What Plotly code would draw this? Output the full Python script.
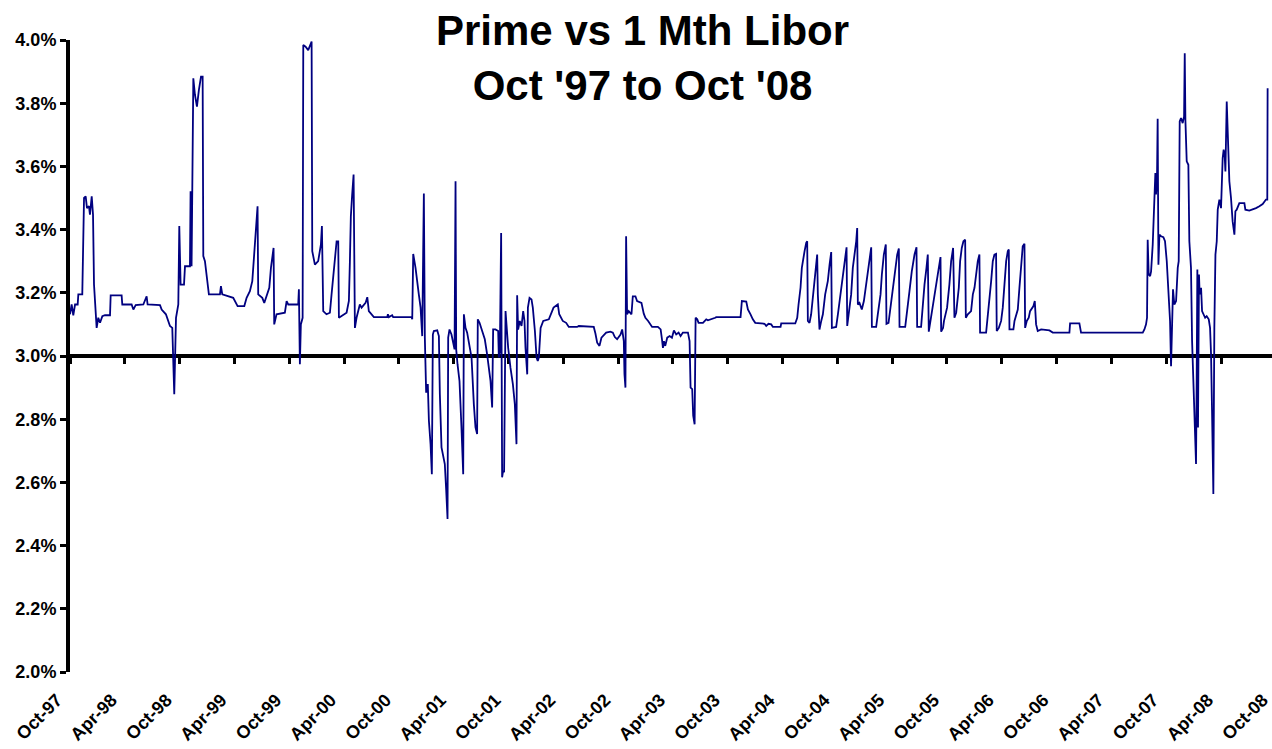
import plotly.graph_objects as go

# Time expressed as decimal years, spread (Prime minus 1M Libor) in percent
t_97_00 = [1997.750, 1997.765, 1997.780, 1997.796, 1997.820, 1997.826, 1997.862, 1997.878, 1997.893, 1997.905,
           1997.923, 1997.932, 1997.948, 1997.960, 1997.969, 1997.981, 1997.993, 1998.008, 1998.024, 1998.045,
           1998.069, 1998.115, 1998.121, 1998.221, 1998.227, 1998.312, 1998.328, 1998.349, 1998.419, 1998.449,
           1998.458, 1998.571, 1998.586, 1998.625, 1998.662, 1998.683, 1998.701, 1998.717, 1998.738, 1998.747,
           1998.759, 1998.790, 1998.799, 1998.844, 1998.850, 1998.859, 1998.875, 1998.890, 1998.908, 1998.926,
           1998.945, 1998.960, 1998.966, 1998.981, 1998.996, 1999.017, 1999.118, 1999.127, 1999.139, 1999.239,
           1999.279, 1999.340, 1999.361, 1999.391, 1999.413, 1999.437, 1999.461, 1999.467, 1999.504, 1999.522,
           1999.543, 1999.568, 1999.583, 1999.607, 1999.613, 1999.634, 1999.710, 1999.726, 1999.741, 1999.832,
           1999.838, 1999.847, 1999.856, 1999.872, 1999.878, 1999.899, 1999.923, 1999.954, 1999.960, 1999.984,
           2000.014, 2000.039, 2000.048, 2000.060, 2000.090, 2000.121, 2000.136, 2000.160, 2000.182, 2000.197,
           2000.203, 2000.273, 2000.294, 2000.303, 2000.312, 2000.324, 2000.337, 2000.349, 2000.364, 2000.394,
           2000.410]
v_97_00 = [3.132, 3.163, 3.129, 3.163, 3.163, 3.195, 3.195, 3.500, 3.505, 3.468,
           3.474, 3.447, 3.505, 3.447, 3.226, 3.132, 3.089, 3.121, 3.105, 3.126,
           3.129, 3.129, 3.192, 3.192, 3.163, 3.163, 3.147, 3.161, 3.163, 3.189,
           3.163, 3.161, 3.147, 3.132, 3.095, 3.089, 2.879, 3.121, 3.163, 3.411,
           3.226, 3.226, 3.284, 3.284, 3.521, 3.284, 3.879, 3.826, 3.789, 3.842,
           3.884, 3.884, 3.316, 3.300, 3.247, 3.195, 3.195, 3.221, 3.195, 3.184,
           3.158, 3.158, 3.184, 3.205, 3.237, 3.342, 3.474, 3.195, 3.184, 3.168,
           3.189, 3.216, 3.279, 3.342, 3.100, 3.132, 3.137, 3.174, 3.163, 3.163,
           3.211, 2.974, 3.100, 3.121, 3.984, 3.979, 3.968, 3.995, 3.332, 3.289,
           3.300, 3.353, 3.411, 3.142, 3.132, 3.137, 3.195, 3.289, 3.363, 3.363,
           3.121, 3.137, 3.174, 3.295, 3.442, 3.511, 3.574, 3.089, 3.121, 3.163,
           3.153]

t_00_03 = [2000.446, 2000.462, 2000.476, 2000.522, 2000.644, 2000.650, 2000.659, 2000.689, 2000.698, 2000.866,
           2000.872, 2000.881, 2000.902, 2000.917, 2000.932, 2000.948, 2000.963, 2000.978, 2000.987, 2000.999,
           2001.014, 2001.024, 2001.039, 2001.051, 2001.060, 2001.069, 2001.100, 2001.115, 2001.124, 2001.139,
           2001.154, 2001.169, 2001.182, 2001.194, 2001.200, 2001.212, 2001.230, 2001.245, 2001.258, 2001.267,
           2001.273, 2001.285, 2001.303, 2001.321, 2001.337, 2001.343, 2001.358, 2001.373, 2001.394, 2001.413,
           2001.434, 2001.449, 2001.464, 2001.470, 2001.486, 2001.510, 2001.534, 2001.555, 2001.586, 2001.601,
           2001.610, 2001.631, 2001.656, 2001.662, 2001.671, 2001.683, 2001.692, 2001.701, 2001.710, 2001.723,
           2001.732, 2001.747, 2001.768, 2001.790, 2001.808, 2001.823, 2001.829, 2001.838, 2001.853, 2001.869,
           2001.884, 2001.896, 2001.905, 2001.921, 2001.927, 2001.942, 2001.960, 2001.972, 2001.991, 2002.006,
           2002.017, 2002.027, 2002.043, 2002.067, 2002.118, 2002.143, 2002.161, 2002.200, 2002.213, 2002.245,
           2002.276, 2002.300, 2002.376, 2002.391, 2002.528, 2002.543, 2002.559, 2002.580, 2002.598, 2002.641,
           2002.680, 2002.702, 2002.720, 2002.741, 2002.772, 2002.787, 2002.802, 2002.808, 2002.817, 2002.823,
           2002.832, 2002.847, 2002.872, 2002.884, 2002.908, 2002.923, 2002.963, 2002.984, 2002.999, 2003.024,
           2003.045, 2003.060]
v_00_03 = [3.168, 3.186, 3.142, 3.123, 3.123, 3.132, 3.123, 3.129, 3.123, 3.123,
           3.116, 3.323, 3.279, 3.226, 3.195, 3.153, 3.063, 3.514, 3.058, 2.884,
           2.911, 2.795, 2.721, 2.626, 3.068, 3.079, 3.081, 3.063, 2.879, 2.711,
           2.689, 2.658, 2.574, 2.484, 3.058, 3.084, 3.068, 3.037, 3.021, 3.553,
           3.021, 2.974, 2.921, 2.774, 2.626, 3.132, 3.089, 3.074, 3.037, 2.995,
           2.847, 2.774, 2.753, 3.116, 3.105, 3.079, 3.053, 3.005, 2.921, 2.837,
           3.084, 3.084, 3.079, 2.995, 3.011, 3.389, 2.616, 2.637, 2.632, 3.142,
           3.089, 3.026, 2.963, 2.911, 2.847, 2.721, 3.192, 3.084, 3.111, 3.095,
           3.142, 3.111, 3.026, 2.942, 3.153, 3.184, 3.179, 3.153, 3.079, 2.995,
           2.984, 2.995, 3.089, 3.111, 3.116, 3.137, 3.153, 3.163, 3.132, 3.111,
           3.105, 3.092, 3.092, 3.095, 3.092, 3.071, 3.042, 3.032, 3.058, 3.074,
           3.077, 3.074, 3.060, 3.053, 3.068, 3.084, 3.047, 2.942, 2.900, 3.379,
           3.132, 3.142, 3.132, 3.189, 3.189, 3.174, 3.168, 3.134, 3.121, 3.111,
           3.097, 3.092]

t_03_05 = [2003.113, 2003.138, 2003.150, 2003.159, 2003.168, 2003.180, 2003.198, 2003.220, 2003.241, 2003.259,
           2003.280, 2003.302, 2003.320, 2003.341, 2003.387, 2003.402, 2003.411, 2003.426, 2003.435, 2003.448,
           2003.457, 2003.472, 2003.484, 2003.524, 2003.554, 2003.569, 2003.636, 2003.645, 2003.867, 2003.879,
           2003.919, 2003.934, 2003.958, 2003.979, 2004.001, 2004.086, 2004.101, 2004.122, 2004.147, 2004.162,
           2004.232, 2004.238, 2004.366, 2004.384, 2004.396, 2004.414, 2004.426, 2004.438, 2004.451, 2004.466,
           2004.475, 2004.481, 2004.496, 2004.511, 2004.530, 2004.548, 2004.566, 2004.572, 2004.587, 2004.603,
           2004.618, 2004.639, 2004.663, 2004.679, 2004.694, 2004.700, 2004.739, 2004.755, 2004.779, 2004.800,
           2004.821, 2004.834, 2004.840, 2004.861, 2004.876, 2004.891, 2004.907, 2004.922, 2004.931, 2004.937,
           2004.952, 2004.973, 2004.992, 2005.004, 2005.022, 2005.043, 2005.059, 2005.065, 2005.104, 2005.119,
           2005.144, 2005.156, 2005.174, 2005.192, 2005.198, 2005.217, 2005.235, 2005.256, 2005.277, 2005.296,
           2005.311, 2005.317, 2005.369, 2005.387, 2005.408, 2005.429, 2005.454, 2005.472, 2005.478, 2005.514,
           2005.530, 2005.545, 2005.563, 2005.575, 2005.584, 2005.600, 2005.621, 2005.642, 2005.660, 2005.679,
           2005.691, 2005.697, 2005.714, 2005.723, 2005.751, 2005.772, 2005.788, 2005.806, 2005.818, 2005.834]
v_03_05 = [3.092, 3.084, 3.053, 3.026, 3.047, 3.032, 3.058, 3.063, 3.058, 3.081,
           3.068, 3.074, 3.063, 3.074, 3.074, 3.047, 2.900, 2.895, 2.811, 2.784,
           3.121, 3.116, 3.105, 3.105, 3.116, 3.113, 3.121, 3.123, 3.123, 3.174,
           3.172, 3.147, 3.132, 3.116, 3.105, 3.102, 3.095, 3.102, 3.100, 3.092,
           3.092, 3.103, 3.103, 3.121, 3.163, 3.216, 3.279, 3.311, 3.332, 3.358,
           3.363, 3.111, 3.105, 3.132, 3.205, 3.268, 3.321, 3.195, 3.084, 3.111,
           3.132, 3.195, 3.237, 3.289, 3.329, 3.089, 3.092, 3.132, 3.195, 3.237,
           3.300, 3.344, 3.095, 3.153, 3.195, 3.279, 3.321, 3.363, 3.405, 3.163,
           3.168, 3.147, 3.174, 3.205, 3.258, 3.300, 3.344, 3.092, 3.092, 3.132,
           3.195, 3.258, 3.321, 3.353, 3.102, 3.105, 3.153, 3.205, 3.268, 3.321,
           3.340, 3.092, 3.092, 3.153, 3.205, 3.268, 3.321, 3.344, 3.092, 3.092,
           3.174, 3.226, 3.279, 3.321, 3.077, 3.111, 3.163, 3.195, 3.237, 3.279,
           3.313, 3.077, 3.089, 3.111, 3.153, 3.226, 3.300, 3.342, 3.121, 3.137]

t_05_08 = [2005.843, 2005.858, 2005.870, 2005.885, 2005.900, 2005.916, 2005.922, 2005.940, 2005.970, 2005.986,
           2006.001, 2006.016, 2006.031, 2006.046, 2006.052, 2006.107, 2006.122, 2006.138, 2006.153, 2006.168,
           2006.183, 2006.198, 2006.204, 2006.223, 2006.244, 2006.259, 2006.274, 2006.290, 2006.305, 2006.314,
           2006.320, 2006.356, 2006.366, 2006.381, 2006.396, 2006.411, 2006.426, 2006.441, 2006.457, 2006.463,
           2006.478, 2006.496, 2006.508, 2006.527, 2006.539, 2006.551, 2006.563, 2006.578, 2006.609, 2006.685,
           2006.715, 2006.867, 2006.873, 2006.958, 2006.973, 2007.536, 2007.551, 2007.566, 2007.575, 2007.581,
           2007.590, 2007.603, 2007.612, 2007.627, 2007.642, 2007.651, 2007.657, 2007.666, 2007.672, 2007.679,
           2007.688, 2007.703, 2007.724, 2007.739, 2007.755, 2007.770, 2007.785, 2007.794, 2007.803, 2007.812,
           2007.824, 2007.840, 2007.855, 2007.864, 2007.873, 2007.885, 2007.900, 2007.913, 2007.919, 2007.925,
           2007.937, 2007.952, 2007.961, 2007.976, 2007.986, 2008.001, 2008.013, 2008.022, 2008.028, 2008.034,
           2008.040, 2008.049, 2008.055, 2008.068, 2008.077, 2008.089, 2008.105, 2008.119, 2008.138, 2008.150,
           2008.159, 2008.168, 2008.180, 2008.189, 2008.199, 2008.211, 2008.220, 2008.235, 2008.250, 2008.265,
           2008.274, 2008.283, 2008.290, 2008.302, 2008.311, 2008.326, 2008.341, 2008.356, 2008.372, 2008.381,
           2008.393, 2008.417, 2008.463, 2008.472, 2008.508, 2008.539, 2008.569, 2008.600, 2008.630, 2008.660,
           2008.672, 2008.675]
v_05_08 = [3.174, 3.216, 3.300, 3.342, 3.363, 3.368, 3.121, 3.132, 3.142, 3.195,
           3.216, 3.268, 3.300, 3.321, 3.074, 3.074, 3.121, 3.174, 3.237, 3.300,
           3.321, 3.323, 3.079, 3.089, 3.111, 3.153, 3.216, 3.300, 3.332, 3.337,
           3.084, 3.084, 3.111, 3.132, 3.147, 3.216, 3.279, 3.347, 3.355, 3.089,
           3.111, 3.121, 3.142, 3.153, 3.158, 3.174, 3.100, 3.079, 3.084, 3.081,
           3.074, 3.074, 3.103, 3.103, 3.074, 3.074, 3.084, 3.100, 3.121, 3.368,
           3.258, 3.253, 3.268, 3.353, 3.479, 3.579, 3.511, 3.563, 3.751, 3.289,
           3.384, 3.379, 3.376, 3.363, 3.300, 3.200, 3.111, 2.968, 3.132, 3.211,
           3.163, 3.174, 3.279, 3.300, 3.742, 3.753, 3.737, 3.758, 3.958, 3.747,
           3.616, 3.605, 3.363, 3.279, 3.047, 2.879, 2.732, 2.658, 2.932, 3.274,
           2.774, 3.258, 3.195, 3.216, 3.142, 3.132, 3.121, 3.126, 3.116, 3.089,
           3.005, 2.826, 2.563, 3.089, 3.321, 3.363, 3.463, 3.495, 3.468, 3.626,
           3.653, 3.637, 3.584, 3.805, 3.700, 3.553, 3.500, 3.426, 3.384, 3.458,
           3.463, 3.484, 3.484, 3.463, 3.460, 3.463, 3.468, 3.474, 3.481, 3.495,
           3.495, 3.847]

tick_vals = [1997.75 + 0.5 * i for i in range(23)]
tick_text = ["Oct-97", "Apr-98", "Oct-98", "Apr-99", "Oct-99", "Apr-00", "Oct-00", "Apr-01",
             "Oct-01", "Apr-02", "Oct-02", "Apr-03", "Oct-03", "Apr-04", "Oct-04", "Apr-05",
             "Oct-05", "Apr-06", "Oct-06", "Apr-07", "Oct-07", "Apr-08", "Oct-08"]
y_ticks = [2.0, 2.2, 2.4, 2.6, 2.8, 3.0, 3.2, 3.4, 3.6, 3.8, 4.0]
y_text = ["2.0%", "2.2%", "2.4%", "2.6%", "2.8%", "3.0%", "3.2%", "3.4%", "3.6%", "3.8%", "4.0%"]

years = t_97_00 + t_00_03 + t_03_05 + t_05_08
spread = v_97_00 + v_00_03 + v_03_05 + v_05_08

FONT = "Arial, 'Liberation Sans', Helvetica, sans-serif"
W, H = 1272, 749
ML = 50            # left margin of the plotting area (label axis starts here)
AXIS_X = 70        # pixel where the value axis sits
PLOT_W = W - ML
PX_PER_YEAR = (W - AXIS_X) / (2008.715 - 1997.75)
data_range = [1997.75, 2008.715]
data_domain = [(AXIS_X - ML) / PLOT_W, 1.0]
# rotated labels end a few pixels left of their tick (Excel style)
label_offset_px = 13
r0 = 1997.75 - (AXIS_X - label_offset_px - ML) / PX_PER_YEAR
label_range = [r0, r0 + PLOT_W / PX_PER_YEAR]

fig = go.Figure()
fig.add_trace(go.Scatter(x=years, y=spread, mode="lines",
                         line=dict(color="#000080", width=1.8),
                         showlegend=False, hoverinfo="skip"))
# empty trace so the label-only axis is created
fig.add_trace(go.Scatter(x=[], y=[], xaxis="x2", yaxis="y", mode="lines", showlegend=False))

fig.update_layout(
    width=W, height=H,
    margin=dict(l=ML, r=0, t=40, b=77, pad=0),
    paper_bgcolor="white", plot_bgcolor="rgba(0,0,0,0)",
    annotations=[dict(text="Prime vs 1 Mth Libor<br>Oct '97 to Oct '08",
                      font=dict(family=FONT, size=42, color="black", weight="bold"),
                      x=(642 - ML) / PLOT_W, xref="paper", xanchor="center",
                      y=1.0554, yref="paper", yanchor="top",
                      showarrow=False, align="center")],
    # data axis: crosses the value axis at 3.0%
    xaxis=dict(range=data_range, domain=data_domain, anchor="free", position=0.5,
               side="bottom", tickvals=tick_vals, showticklabels=False,
               ticks="outside", ticklen=6, tickwidth=3, tickcolor="black",
               showline=True, linewidth=3.5, linecolor="black",
               showgrid=False, zeroline=False, layer="below traces"),
    # label axis at the bottom (own domain so the first label can sit left of the value axis)
    xaxis2=dict(range=label_range, domain=[0, 1], anchor="y", side="bottom",
                tickvals=tick_vals, ticktext=tick_text, tickangle=-45,
                showline=False, ticks="", showgrid=False, zeroline=False,
                ticklabeloverflow="allow",
                tickfont=dict(family=FONT, size=18, color="black", weight="bold"),
                ticklabelstandoff=13),
    yaxis=dict(range=[2.0, 4.0], anchor="x", tickvals=y_ticks, ticktext=y_text,
               showline=True, linewidth=4, linecolor="black", ticks="outside",
               ticklen=6, tickwidth=3, tickcolor="black", showgrid=False, zeroline=False,
               tickfont=dict(family=FONT, size=18, color="black", weight="bold"),
               layer="below traces"),
)

fig.write_html("out.html")
